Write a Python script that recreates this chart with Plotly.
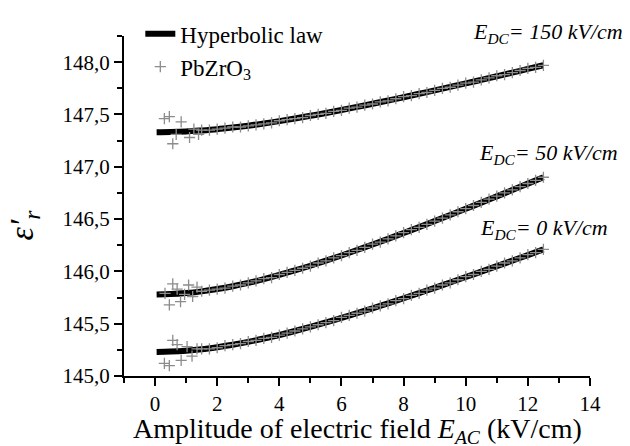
import plotly.graph_objects as go

# ---------------- data ----------------
fit_x = [0.05, 0.5, 1.0, 1.5, 2.0, 2.5, 3.0, 3.5, 4.0, 4.5, 5.0, 5.5, 6.0, 6.5,
         7.0, 7.5, 8.0, 8.5, 9.0, 9.5, 10.0, 10.5, 11.0, 11.5, 12.0, 12.5]
fit_0 = [145.230, 145.233, 145.241, 145.255, 145.275, 145.298, 145.326, 145.358,
         145.392, 145.430, 145.470, 145.512, 145.555, 145.601, 145.647, 145.695,
         145.743, 145.793, 145.843, 145.894, 145.946, 145.998, 146.050, 146.103,
         146.156, 146.210]
fit_50 = [145.780, 145.783, 145.793, 145.809, 145.831, 145.858, 145.890, 145.926,
          145.966, 146.009, 146.054, 146.102, 146.152, 146.204, 146.257, 146.311,
          146.367, 146.423, 146.481, 146.539, 146.598, 146.657, 146.717, 146.778,
          146.839, 146.900]
fit_150 = [147.330, 147.332, 147.337, 147.347, 147.359, 147.375, 147.393, 147.413,
           147.436, 147.461, 147.487, 147.514, 147.542, 147.572, 147.602, 147.633,
           147.665, 147.698, 147.730, 147.764, 147.797, 147.831, 147.865, 147.900,
           147.935, 147.970]

# measured points: low-field scatter + main run
meas_x_0 = [0.30, 0.46, 0.57, 0.71, 0.84, 1.03, 1.19, 1.35,
            1.50, 1.75, 2.00, 2.25, 2.50, 2.75, 3.00, 3.25, 3.50, 3.75, 4.00, 4.25,
            4.50, 4.75, 5.00, 5.25, 5.50, 5.75, 6.00, 6.25, 6.50, 6.75, 7.00, 7.25,
            7.50, 7.75, 8.00, 8.25, 8.50, 8.75, 9.00, 9.25, 9.50, 9.75, 10.00, 10.25,
            10.50, 10.75, 11.00, 11.25, 11.50, 11.75, 12.00, 12.25, 12.50]
meas_y_0 = [145.12, 145.10, 145.34, 145.30, 145.15, 145.28, 145.19, 145.26,
            145.26, 145.26, 145.27, 145.29, 145.30, 145.31, 145.33, 145.34, 145.36,
            145.37, 145.39, 145.41, 145.43, 145.45, 145.47, 145.49, 145.51, 145.53,
            145.56, 145.58, 145.60, 145.62, 145.65, 145.67, 145.69, 145.72, 145.74,
            145.77, 145.79, 145.82, 145.84, 145.87, 145.89, 145.92, 145.95, 145.97,
            146.00, 146.02, 146.05, 146.08, 146.10, 146.13, 146.16, 146.18, 146.21]

meas_x_50 = [0.32, 0.46, 0.57, 0.71, 0.82, 0.95, 1.08, 1.21, 1.35,
             1.50, 1.75, 2.00, 2.25, 2.50, 2.75, 3.00, 3.25, 3.50, 3.75, 4.00, 4.25,
             4.50, 4.75, 5.00, 5.25, 5.50, 5.75, 6.00, 6.25, 6.50, 6.75, 7.00, 7.25,
             7.50, 7.75, 8.00, 8.25, 8.50, 8.75, 9.00, 9.25, 9.50, 9.75, 10.00, 10.25,
             10.50, 10.75, 11.00, 11.25, 11.50, 11.75, 12.00, 12.25, 12.50]
meas_y_50 = [145.79, 145.68, 145.88, 145.83, 145.71, 145.78, 145.87, 145.76, 145.85,
             145.81, 145.82, 145.83, 145.84, 145.86, 145.87, 145.89, 145.91, 145.93,
             145.94, 145.97, 145.99, 146.01, 146.03, 146.05, 146.08, 146.10, 146.13,
             146.15, 146.18, 146.20, 146.23, 146.26, 146.28, 146.31, 146.34, 146.37,
             146.40, 146.42, 146.45, 146.48, 146.51, 146.54, 146.57, 146.60, 146.63,
             146.66, 146.69, 146.72, 146.75, 146.78, 146.81, 146.84, 146.87, 146.90]

meas_x_150 = [0.30, 0.46, 0.57, 0.68, 0.84, 1.11, 1.25, 1.40,
              1.50, 1.75, 2.00, 2.25, 2.50, 2.75, 3.00, 3.25, 3.50, 3.75, 4.00, 4.25,
              4.50, 4.75, 5.00, 5.25, 5.50, 5.75, 6.00, 6.25, 6.50, 6.75, 7.00, 7.25,
              7.50, 7.75, 8.00, 8.25, 8.50, 8.75, 9.00, 9.25, 9.50, 9.75, 10.00, 10.25,
              10.50, 10.75, 11.00, 11.25, 11.50, 11.75, 12.00, 12.25, 12.50]
meas_y_150 = [147.46, 147.48, 147.22, 147.31, 147.43, 147.28, 147.36, 147.31,
              147.35, 147.35, 147.36, 147.37, 147.38, 147.38, 147.39, 147.40, 147.41,
              147.42, 147.44, 147.45, 147.46, 147.47, 147.49, 147.50, 147.51, 147.53,
              147.54, 147.56, 147.57, 147.59, 147.60, 147.62, 147.63, 147.65, 147.67,
              147.68, 147.70, 147.71, 147.73, 147.75, 147.76, 147.78, 147.80, 147.81,
              147.83, 147.85, 147.87, 147.88, 147.90, 147.92, 147.94, 147.95, 147.97]

labels = ["<i>E</i><sub><i>DC</i></sub><i>= 150 kV/cm</i>",
          "<i>E</i><sub><i>DC</i></sub><i>= 50 kV/cm</i>",
          "<i>E</i><sub><i>DC</i></sub><i>= 0 kV/cm</i>"]
label_px = [1.075, 1.064, 1.043]   # right edge, paper fraction
label_py = [1.008, 0.653, 0.432]   # vertical centre, paper fraction

x_ticks = [0, 2, 4, 6, 8, 10, 12, 14]
x_tick_text = ["0", "2", "4", "6", "8", "10", "12", "14"]
y_ticks = [145.0, 145.5, 146.0, 146.5, 147.0, 147.5, 148.0]
y_tick_text = ["145,0", "145,5", "146,0", "146,5", "147,0", "147,5", "148,0"]

# ---------------- figure ----------------
FONT = "Liberation Serif, Tinos, DejaVu Serif, serif"
fig = go.Figure()

fits = [fit_0, fit_50, fit_150]
for i, fy in enumerate(fits):
    fig.add_trace(go.Scatter(
        x=fit_x, y=fy, mode="lines", line=dict(color="black", width=6, shape="spline"),
        name="Hyperbolic law", legendgroup="fit", showlegend=(i == 0)))

meas = [(meas_x_0, meas_y_0), (meas_x_50, meas_y_50), (meas_x_150, meas_y_150)]
for i, (mx, my) in enumerate(meas):
    fig.add_trace(go.Scatter(
        x=mx, y=my, mode="markers",
        marker=dict(symbol="cross-thin", size=8, line=dict(color="#8c8c8c", width=1.3)),
        name="PbZrO<sub>3</sub>", legendgroup="meas", showlegend=(i == 0)))

for t, lx, ly in zip(labels, label_px, label_py):
    fig.add_annotation(x=lx, y=ly, xref="paper", yref="paper", text=t, showarrow=False,
                       xanchor="right", yanchor="middle",
                       font=dict(family=FONT, size=22))

# axis titles as annotations
fig.add_annotation(x=0.5, y=-0.103, xref="paper", yref="paper", xanchor="center", yanchor="top",
                   text="Amplitude of electric field <i>E</i><sub><i>AC</i></sub> (kV/cm)",
                   showarrow=False, font=dict(family=FONT, size=28))
fig.add_annotation(x=-0.215, y=0.445, xref="paper", yref="paper", xanchor="center", yanchor="middle",
                   text="<i>&#949;&#8242;<sub>r</sub></i>", textangle=-90,
                   showarrow=False, font=dict(family=FONT, size=34))

axis_common = dict(showline=True, linecolor="black", linewidth=2, ticks="outside",
                   ticklen=8, tickwidth=2, tickcolor="black", showgrid=False, zeroline=False,
                   tickfont=dict(family=FONT, size=21), mirror=False)

fig.update_xaxes(range=[-1, 14], tickvals=x_ticks, ticktext=x_tick_text,
                 minor=dict(dtick=1, tick0=1, ticklen=5, tickwidth=2, tickcolor="black",
                            ticks="outside", showgrid=False),
                 **axis_common)
fig.update_yaxes(range=[145.0, 148.25], tickvals=y_ticks, ticktext=y_tick_text,
                 minor=dict(dtick=0.25, tick0=145.0, ticklen=5, tickwidth=2, tickcolor="black",
                            ticks="outside", showgrid=False),
                 **axis_common)

fig.update_layout(
    width=630, height=446,
    margin=dict(l=124, r=40, t=30, b=70, pad=0),
    paper_bgcolor="white", plot_bgcolor="white",
    font_color="black",
    legend=dict(x=0.035, y=1.07, xanchor="left", yanchor="top",
                font=dict(family=FONT, size=23),
                bgcolor="rgba(0,0,0,0)", tracegroupgap=0, itemwidth=30),
)

fig.write_html("out.html")
